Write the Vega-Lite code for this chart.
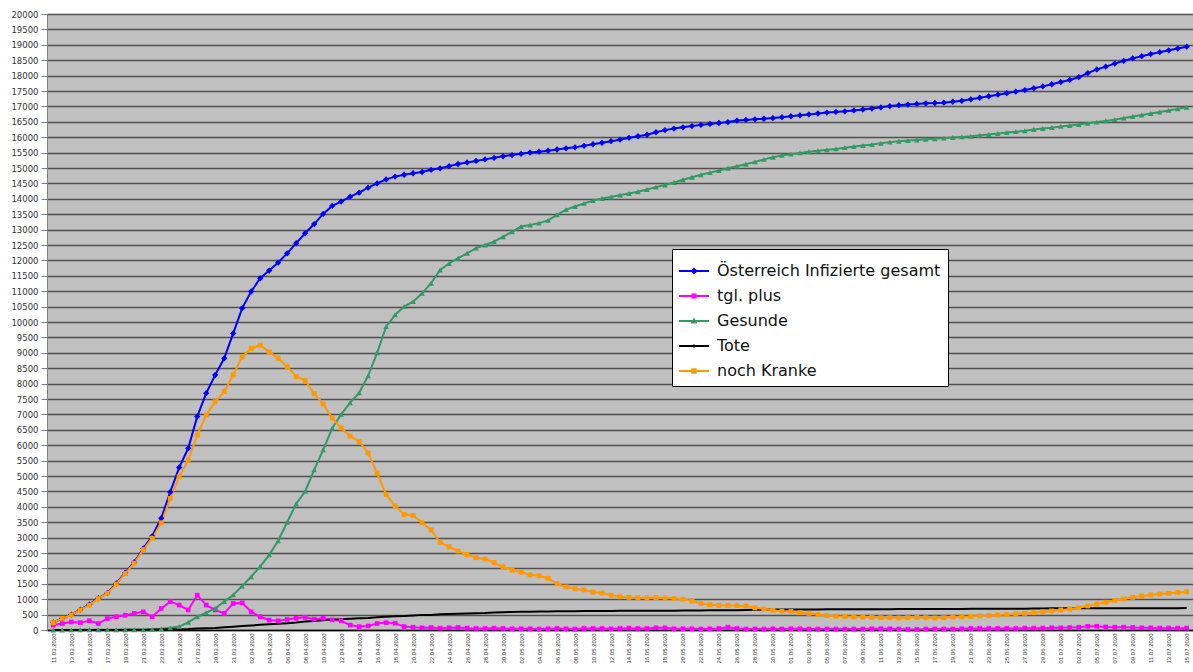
{
"$schema":"https://vega.github.io/schema/vega-lite/v6.json",
"width":1146,"height":616,
"autosize":"none",
"padding":{"left":47,"top":14,"right":0,"bottom":42},
"background":"#ffffff",
"config":{"view":{"fill":"#c0c0c0","stroke":null},"font":"Liberation Sans"},
"data":{"values":[
{"d":"11.03.2020","inf":250,"plus":160,"ges":0,"tote":0,"krank":240},
{"d":"12.03.2020","inf":380,"plus":210,"ges":0,"tote":1,"krank":380},
{"d":"13.03.2020","inf":500,"plus":260,"ges":4,"tote":1,"krank":490},
{"d":"14.03.2020","inf":660,"plus":240,"ges":6,"tote":1,"krank":650},
{"d":"15.03.2020","inf":830,"plus":300,"ges":6,"tote":1,"krank":810},
{"d":"16.03.2020","inf":1030,"plus":210,"ges":6,"tote":1,"krank":1020},
{"d":"17.03.2020","inf":1200,"plus":370,"ges":8,"tote":3,"krank":1190},
{"d":"18.03.2020","inf":1510,"plus":430,"ges":9,"tote":4,"krank":1490},
{"d":"19.03.2020","inf":1860,"plus":480,"ges":9,"tote":6,"krank":1840},
{"d":"20.03.2020","inf":2200,"plus":540,"ges":9,"tote":6,"krank":2170},
{"d":"21.03.2020","inf":2650,"plus":590,"ges":9,"tote":8,"krank":2610},
{"d":"22.03.2020","inf":3050,"plus":430,"ges":20,"tote":16,"krank":2980},
{"d":"23.03.2020","inf":3630,"plus":700,"ges":40,"tote":16,"krank":3480},
{"d":"24.03.2020","inf":4480,"plus":920,"ges":70,"tote":21,"krank":4270},
{"d":"25.03.2020","inf":5280,"plus":810,"ges":110,"tote":28,"krank":4980},
{"d":"26.03.2020","inf":5900,"plus":650,"ges":250,"tote":30,"krank":5520},
{"d":"27.03.2020","inf":6930,"plus":1130,"ges":430,"tote":49,"krank":6330},
{"d":"28.03.2020","inf":7690,"plus":810,"ges":560,"tote":58,"krank":6980},
{"d":"29.03.2020","inf":8280,"plus":650,"ges":700,"tote":68,"krank":7410},
{"d":"30.03.2020","inf":8820,"plus":540,"ges":920,"tote":86,"krank":7740},
{"d":"31.03.2020","inf":9630,"plus":860,"ges":1140,"tote":108,"krank":8280},
{"d":"01.04.2020","inf":10450,"plus":880,"ges":1430,"tote":128,"krank":8870},
{"d":"02.04.2020","inf":10990,"plus":590,"ges":1730,"tote":146,"krank":9140},
{"d":"03.04.2020","inf":11420,"plus":430,"ges":2060,"tote":168,"krank":9250},
{"d":"04.04.2020","inf":11670,"plus":320,"ges":2440,"tote":186,"krank":9030},
{"d":"05.04.2020","inf":11930,"plus":300,"ges":2900,"tote":204,"krank":8820},
{"d":"06.04.2020","inf":12230,"plus":340,"ges":3500,"tote":220,"krank":8550},
{"d":"07.04.2020","inf":12560,"plus":380,"ges":4100,"tote":243,"krank":8230},
{"d":"08.04.2020","inf":12880,"plus":410,"ges":4500,"tote":273,"krank":8100},
{"d":"09.04.2020","inf":13180,"plus":350,"ges":5200,"tote":295,"krank":7680},
{"d":"10.04.2020","inf":13510,"plus":380,"ges":5850,"tote":319,"krank":7340},
{"d":"11.04.2020","inf":13770,"plus":330,"ges":6550,"tote":337,"krank":6880},
{"d":"12.04.2020","inf":13910,"plus":300,"ges":7000,"tote":350,"krank":6560},
{"d":"13.04.2020","inf":14070,"plus":160,"ges":7380,"tote":368,"krank":6300},
{"d":"14.04.2020","inf":14200,"plus":110,"ges":7700,"tote":384,"krank":6120},
{"d":"15.04.2020","inf":14360,"plus":130,"ges":8250,"tote":393,"krank":5750},
{"d":"16.04.2020","inf":14500,"plus":210,"ges":9000,"tote":410,"krank":5090},
{"d":"17.04.2020","inf":14630,"plus":240,"ges":9850,"tote":431,"krank":4400},
{"d":"18.04.2020","inf":14720,"plus":220,"ges":10230,"tote":443,"krank":4030},
{"d":"19.04.2020","inf":14780,"plus":110,"ges":10500,"tote":452,"krank":3750},
{"d":"20.04.2020","inf":14830,"plus":90,"ges":10660,"tote":470,"krank":3720},
{"d":"21.04.2020","inf":14870,"plus":70,"ges":10930,"tote":491,"krank":3480},
{"d":"22.04.2020","inf":14940,"plus":80,"ges":11260,"tote":491,"krank":3250},
{"d":"23.04.2020","inf":14990,"plus":60,"ges":11690,"tote":510,"krank":2850},
{"d":"24.04.2020","inf":15060,"plus":70,"ges":11900,"tote":522,"krank":2700},
{"d":"25.04.2020","inf":15130,"plus":80,"ges":12070,"tote":530,"krank":2560},
{"d":"26.04.2020","inf":15180,"plus":60,"ges":12230,"tote":536,"krank":2450},
{"d":"27.04.2020","inf":15230,"plus":50,"ges":12400,"tote":542,"krank":2350},
{"d":"28.04.2020","inf":15280,"plus":50,"ges":12500,"tote":549,"krank":2300},
{"d":"29.04.2020","inf":15330,"plus":60,"ges":12610,"tote":569,"krank":2190},
{"d":"30.04.2020","inf":15380,"plus":50,"ges":12770,"tote":580,"krank":2050},
{"d":"01.05.2020","inf":15420,"plus":40,"ges":12930,"tote":584,"krank":1940},
{"d":"02.05.2020","inf":15460,"plus":40,"ges":13100,"tote":589,"krank":1880},
{"d":"03.05.2020","inf":15500,"plus":40,"ges":13150,"tote":596,"krank":1790},
{"d":"04.05.2020","inf":15530,"plus":30,"ges":13210,"tote":598,"krank":1760},
{"d":"05.05.2020","inf":15560,"plus":40,"ges":13300,"tote":600,"krank":1680},
{"d":"06.05.2020","inf":15600,"plus":50,"ges":13480,"tote":606,"krank":1500},
{"d":"07.05.2020","inf":15640,"plus":40,"ges":13650,"tote":608,"krank":1400},
{"d":"08.05.2020","inf":15670,"plus":30,"ges":13750,"tote":609,"krank":1340},
{"d":"09.05.2020","inf":15720,"plus":50,"ges":13850,"tote":614,"krank":1300},
{"d":"10.05.2020","inf":15770,"plus":50,"ges":13940,"tote":615,"krank":1230},
{"d":"11.05.2020","inf":15820,"plus":50,"ges":14010,"tote":618,"krank":1200},
{"d":"12.05.2020","inf":15870,"plus":40,"ges":14060,"tote":620,"krank":1130},
{"d":"13.05.2020","inf":15920,"plus":50,"ges":14120,"tote":623,"krank":1080},
{"d":"14.05.2020","inf":15980,"plus":60,"ges":14170,"tote":624,"krank":1060},
{"d":"15.05.2020","inf":16030,"plus":50,"ges":14230,"tote":626,"krank":1050},
{"d":"16.05.2020","inf":16080,"plus":50,"ges":14300,"tote":627,"krank":1040},
{"d":"17.05.2020","inf":16160,"plus":70,"ges":14380,"tote":628,"krank":1050},
{"d":"18.05.2020","inf":16230,"plus":70,"ges":14450,"tote":629,"krank":1040},
{"d":"19.05.2020","inf":16280,"plus":40,"ges":14530,"tote":629,"krank":1020},
{"d":"20.05.2020","inf":16320,"plus":40,"ges":14620,"tote":632,"krank":1000},
{"d":"21.05.2020","inf":16360,"plus":40,"ges":14700,"tote":633,"krank":940},
{"d":"22.05.2020","inf":16400,"plus":30,"ges":14780,"tote":636,"krank":860},
{"d":"23.05.2020","inf":16430,"plus":40,"ges":14850,"tote":639,"krank":820},
{"d":"24.05.2020","inf":16460,"plus":50,"ges":14920,"tote":641,"krank":800},
{"d":"25.05.2020","inf":16490,"plus":90,"ges":14990,"tote":643,"krank":800},
{"d":"26.05.2020","inf":16540,"plus":50,"ges":15060,"tote":645,"krank":790},
{"d":"27.05.2020","inf":16560,"plus":30,"ges":15120,"tote":648,"krank":780},
{"d":"28.05.2020","inf":16580,"plus":30,"ges":15200,"tote":655,"krank":720},
{"d":"29.05.2020","inf":16600,"plus":30,"ges":15280,"tote":658,"krank":680},
{"d":"30.05.2020","inf":16620,"plus":40,"ges":15350,"tote":665,"krank":640},
{"d":"31.05.2020","inf":16650,"plus":30,"ges":15410,"tote":668,"krank":610},
{"d":"01.06.2020","inf":16680,"plus":40,"ges":15450,"tote":668,"krank":600},
{"d":"02.06.2020","inf":16710,"plus":40,"ges":15490,"tote":668,"krank":560},
{"d":"03.06.2020","inf":16740,"plus":30,"ges":15530,"tote":669,"krank":540},
{"d":"04.06.2020","inf":16770,"plus":30,"ges":15560,"tote":669,"krank":500},
{"d":"05.06.2020","inf":16800,"plus":30,"ges":15590,"tote":670,"krank":470},
{"d":"06.06.2020","inf":16820,"plus":30,"ges":15620,"tote":671,"krank":450},
{"d":"07.06.2020","inf":16840,"plus":30,"ges":15660,"tote":672,"krank":440},
{"d":"08.06.2020","inf":16870,"plus":30,"ges":15700,"tote":672,"krank":430},
{"d":"09.06.2020","inf":16900,"plus":30,"ges":15730,"tote":672,"krank":420},
{"d":"10.06.2020","inf":16930,"plus":40,"ges":15760,"tote":673,"krank":410},
{"d":"11.06.2020","inf":16970,"plus":40,"ges":15800,"tote":674,"krank":400},
{"d":"12.06.2020","inf":17010,"plus":40,"ges":15840,"tote":677,"krank":400},
{"d":"13.06.2020","inf":17040,"plus":30,"ges":15870,"tote":678,"krank":390},
{"d":"14.06.2020","inf":17060,"plus":20,"ges":15890,"tote":678,"krank":400},
{"d":"15.06.2020","inf":17080,"plus":20,"ges":15910,"tote":679,"krank":410},
{"d":"16.06.2020","inf":17100,"plus":30,"ges":15930,"tote":680,"krank":400},
{"d":"17.06.2020","inf":17110,"plus":30,"ges":15950,"tote":681,"krank":390},
{"d":"18.06.2020","inf":17120,"plus":30,"ges":15970,"tote":681,"krank":400},
{"d":"19.06.2020","inf":17150,"plus":30,"ges":15990,"tote":682,"krank":420},
{"d":"20.06.2020","inf":17180,"plus":40,"ges":16010,"tote":684,"krank":430},
{"d":"21.06.2020","inf":17230,"plus":50,"ges":16030,"tote":686,"krank":440},
{"d":"22.06.2020","inf":17280,"plus":50,"ges":16060,"tote":687,"krank":460},
{"d":"23.06.2020","inf":17330,"plus":50,"ges":16090,"tote":688,"krank":470},
{"d":"24.06.2020","inf":17380,"plus":50,"ges":16120,"tote":688,"krank":490},
{"d":"25.06.2020","inf":17430,"plus":50,"ges":16150,"tote":690,"krank":500},
{"d":"26.06.2020","inf":17480,"plus":50,"ges":16180,"tote":692,"krank":520},
{"d":"27.06.2020","inf":17530,"plus":60,"ges":16210,"tote":693,"krank":540},
{"d":"28.06.2020","inf":17590,"plus":60,"ges":16250,"tote":695,"krank":560},
{"d":"29.06.2020","inf":17650,"plus":60,"ges":16280,"tote":699,"krank":590},
{"d":"30.06.2020","inf":17720,"plus":70,"ges":16310,"tote":703,"krank":620},
{"d":"01.07.2020","inf":17790,"plus":70,"ges":16350,"tote":704,"krank":650},
{"d":"02.07.2020","inf":17860,"plus":80,"ges":16380,"tote":705,"krank":680},
{"d":"03.07.2020","inf":17950,"plus":90,"ges":16410,"tote":705,"krank":720},
{"d":"04.07.2020","inf":18080,"plus":120,"ges":16450,"tote":705,"krank":780},
{"d":"05.07.2020","inf":18200,"plus":120,"ges":16490,"tote":706,"krank":840},
{"d":"06.07.2020","inf":18290,"plus":100,"ges":16530,"tote":706,"krank":900},
{"d":"07.07.2020","inf":18390,"plus":90,"ges":16570,"tote":706,"krank":960},
{"d":"08.07.2020","inf":18480,"plus":90,"ges":16620,"tote":706,"krank":1010},
{"d":"09.07.2020","inf":18560,"plus":80,"ges":16670,"tote":707,"krank":1060},
{"d":"10.07.2020","inf":18630,"plus":70,"ges":16720,"tote":708,"krank":1100},
{"d":"11.07.2020","inf":18700,"plus":70,"ges":16770,"tote":708,"krank":1140},
{"d":"12.07.2020","inf":18760,"plus":60,"ges":16820,"tote":709,"krank":1170},
{"d":"13.07.2020","inf":18820,"plus":60,"ges":16870,"tote":709,"krank":1190},
{"d":"14.07.2020","inf":18880,"plus":60,"ges":16920,"tote":710,"krank":1220},
{"d":"15.07.2020","inf":18940,"plus":60,"ges":16970,"tote":711,"krank":1240}
]},
"transform":[{"fold":["inf","plus","ges","tote","krank"],"as":["k","v"]}],
"encoding":{
 "x":{"field":"d","type":"ordinal","sort":null,"scale":{"type":"point","padding":0.7},
  "axis":{"title":null,"values":["11.03.2020","13.03.2020","15.03.2020","17.03.2020","19.03.2020","21.03.2020","23.03.2020","25.03.2020","27.03.2020","29.03.2020","31.03.2020","02.04.2020","04.04.2020","06.04.2020","08.04.2020","10.04.2020","12.04.2020","14.04.2020","16.04.2020","18.04.2020","20.04.2020","22.04.2020","24.04.2020","26.04.2020","28.04.2020","30.04.2020","02.05.2020","04.05.2020","06.05.2020","08.05.2020","10.05.2020","12.05.2020","14.05.2020","16.05.2020","18.05.2020","20.05.2020","22.05.2020","24.05.2020","26.05.2020","28.05.2020","30.05.2020","01.06.2020","03.06.2020","05.06.2020","07.06.2020","09.06.2020","11.06.2020","13.06.2020","15.06.2020","17.06.2020","19.06.2020","21.06.2020","23.06.2020","25.06.2020","27.06.2020","29.06.2020","01.07.2020","03.07.2020","05.07.2020","07.07.2020","09.07.2020","11.07.2020","13.07.2020","15.07.2020"],
  "labelAngle":270,"labelFontSize":6,"labelColor":"#333333","labelPadding":3,"labelOverlap":false,"ticks":false,"domain":true,"domainColor":"#000000","domainWidth":1.5,"grid":false}},
 "y":{"field":"v","type":"quantitative","scale":{"domain":[0,20000],"nice":false},
  "axis":{"title":null,"tickCount":40,"format":"d","labelFont":"DejaVu Sans","labelFontSize":8.5,"labelColor":"#333333","labelOverlap":false,"tickColor":"#808080","tickSize":6,"domainColor":"#808080","gridColor":"#505050","gridWidth":1.4,"labelPadding":3}},
 "color":{"field":"k","type":"nominal",
  "scale":{"domain":["inf","plus","ges","tote","krank"],"range":["#0000ff","#ff00ff","#339966","#000000","#ff9900"]}}
},
"layer":[
 {"mark":{"type":"line","strokeWidth":2}},
 {"transform":[{"filter":"datum.k=='inf'"}],"mark":{"type":"point","shape":"diamond","filled":true,"opacity":1,"size":40}},
 {"transform":[{"filter":"datum.k=='plus'"}],"mark":{"type":"point","shape":"square","filled":true,"opacity":1,"size":22}},
 {"transform":[{"filter":"datum.k=='ges'"}],"mark":{"type":"point","shape":"triangle-up","filled":true,"opacity":1,"size":32}},
 {"transform":[{"filter":"datum.k=='krank'"}],"mark":{"type":"point","shape":"square","filled":true,"opacity":1,"size":24}},
 {"transform":[{"filter":"false"}],"mark":{"type":"point","filled":true,"opacity":1},
  "encoding":{
   "color":{"field":"k","type":"nominal",
    "scale":{"domain":["inf","plus","ges","tote","krank"],"range":["#0000ff","#ff00ff","#339966","#000000","#ff9900"]},
    "legend":{"orient":"none","legendX":625,"legendY":235,"title":null,"fillColor":"#ffffff","strokeColor":"#000000","padding":7,"cornerRadius":0,
     "labelFont":"DejaVu Sans","labelFontSize":16,"labelColor":"#111111","labelLimit":400,
     "symbolSize":900,"symbolStrokeWidth":0,"rowPadding":2,"labelOffset":8,
     "labelExpr":"datum.label=='inf' ? 'Österreich Infizierte gesamt' : datum.label=='plus' ? 'tgl. plus' : datum.label=='ges' ? 'Gesunde' : datum.label=='tote' ? 'Tote' : 'noch Kranke'"}},
   "shape":{"field":"k","type":"nominal",
    "scale":{"domain":["inf","plus","ges","tote","krank"],"range":["M-1,-0.06H1V0.06H-1ZM0,-0.24L0.24,0L0,0.24L-0.24,0Z","M-1,-0.06H1V0.06H-1ZM-0.17,-0.17H0.17V0.17H-0.17Z","M-1,-0.06H1V0.06H-1ZM0,-0.24L0.23,0.17L-0.23,0.17Z","M-1,-0.06H1V0.06H-1ZM-0.03,-0.13H0.03V0.13H-0.03Z","M-1,-0.06H1V0.06H-1ZM-0.18,-0.18H0.18V0.18H-0.18Z"]},
    "legend":{"orient":"none","legendX":625,"legendY":235,"title":null,"fillColor":"#ffffff","strokeColor":"#000000","padding":7,"cornerRadius":0,
     "labelFont":"DejaVu Sans","labelFontSize":16,"labelColor":"#111111","labelLimit":400,
     "symbolSize":900,"symbolStrokeWidth":0,"rowPadding":2,"labelOffset":8,
     "labelExpr":"datum.label=='inf' ? 'Österreich Infizierte gesamt' : datum.label=='plus' ? 'tgl. plus' : datum.label=='ges' ? 'Gesunde' : datum.label=='tote' ? 'Tote' : 'noch Kranke'"}}}}
]
}
